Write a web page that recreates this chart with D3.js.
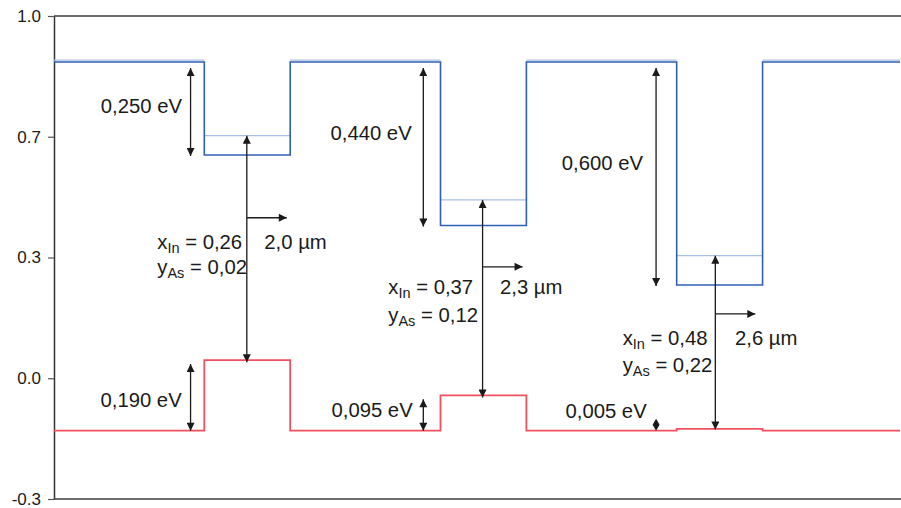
<!DOCTYPE html>
<html>
<head>
<meta charset="utf-8">
<script src="https://cdn.jsdelivr.net/npm/d3@7"></script>
<style>
  html, body { margin: 0; padding: 0; background: #fff; }
  svg { display: block; }
  text { font-family: "Liberation Sans", Arial, sans-serif; fill: #1a1a1a; }
</style>
</head>
<body>
<svg id="chart" width="901" height="508"></svg>
<script>
// ---------- data ----------
const xEdges = [0, 35, 55, 90, 110, 145, 165, 197];           // position (nm) of layer boundaries
const cbLevels = [0.876, 0.626, 0.876, 0.436, 0.876, 0.276, 0.876]; // conduction band per layer (eV)
const vbLevels = [-0.116, 0.074, -0.116, -0.021, -0.116, -0.111, -0.116]; // valence band per layer (eV)
const barrierLevel = 0.881;                                   // thin level line on barriers
const wellLevels = [0.678, 0.505, 0.355];                     // confined levels in the wells
const wellIndex = [1, 3, 5];
const yTickValues = [-0.3, 0.025, 0.35, 0.675, 1.0];
const yTickLabels = ["-0.3", "0.0", "0.3", "0.7", "1.0"];

const cbOffsetLabels = ["0,250 eV", "0,440 eV", "0,600 eV"];
const vbOffsetLabels = ["0,190 eV", "0,095 eV", "0,005 eV"];
const xInValues = ["0,26", "0,37", "0,48"];
const yAsValues = ["0,02", "0,12", "0,22"];
const wavelengths = ["2,0 µm", "2,3 µm", "2,6 µm"];
const transitionX = [44.9, 99.8, 154.0];     // position of transition arrows
const offsetArrowX = [31.8, 86.0, 140.2];    // position of band-offset arrows
const vbTops = [0.068, -0.027, -0.113];      // lower end of transition arrows

// ---------- layout ----------
const svg = d3.select("#chart");
const x = d3.scaleLinear().domain([0, 197]).range([54, 900]);
const y = d3.scaleLinear().domain([-0.3, 1.0]).range([499, 16]);

// markers
const defs = svg.append("defs");
defs.append("marker").attr("id", "ah")
  .attr("viewBox", "0 0 10 10").attr("refX", 10).attr("refY", 5)
  .attr("markerWidth", 9).attr("markerHeight", 8).attr("markerUnits", "userSpaceOnUse")
  .attr("orient", "auto-start-reverse")
  .append("path").attr("d", "M0,0 L10,5 L0,10 Z").attr("fill", "#1a1a1a");

// axes frame
svg.append("line").attr("x1", 54).attr("x2", 901).attr("y1", y(1.0)).attr("y2", y(1.0))
  .attr("stroke", "#3a3a3a").attr("stroke-width", 1.5);
svg.append("line").attr("x1", 54).attr("x2", 901).attr("y1", y(-0.3)).attr("y2", y(-0.3))
  .attr("stroke", "#6e6e6e").attr("stroke-width", 2);

const yAxis = d3.axisLeft(y).tickValues(yTickValues)
  .tickFormat((d, i) => yTickLabels[i]).tickSize(6).tickSizeOuter(0).tickPadding(7);
const gy = svg.append("g").attr("transform", "translate(54,0)").call(yAxis);
gy.select(".domain").attr("stroke", "#333").attr("stroke-width", 1.5);
gy.selectAll(".tick line").attr("stroke", "#555").attr("stroke-width", 1.2);
gy.selectAll(".tick text").attr("font-size", 17).attr("fill", "#222")
  .attr("font-family", "'Liberation Sans', Arial, sans-serif");

// step profiles
function stepPoints(levels) {
  const pts = [];
  levels.forEach((v, i) => { pts.push([xEdges[i], v]); pts.push([xEdges[i + 1], v]); });
  return pts;
}
const line = d3.line().x(d => x(d[0])).y(d => y(d[1]));

// thin level lines (light blue)
const thinSegs = [];
cbLevels.forEach((v, i) => {
  const wi = wellIndex.indexOf(i);
  thinSegs.push([[xEdges[i], wi < 0 ? barrierLevel : wellLevels[wi]], [xEdges[i + 1], wi < 0 ? barrierLevel : wellLevels[wi]]]);
});
svg.append("g").selectAll("path").data(thinSegs).join("path")
  .attr("d", line).attr("stroke", "#a9bfe6").attr("stroke-width", 1.2).attr("fill", "none");

svg.append("path").attr("d", line(stepPoints(cbLevels)))
  .attr("stroke", "#2f5fb5").attr("stroke-width", 1.6).attr("fill", "none");
svg.append("path").attr("d", line(stepPoints(vbLevels)))
  .attr("stroke", "#f0505c").attr("stroke-width", 1.8).attr("fill", "none");

// arrows
const ag = svg.append("g").attr("stroke", "#1a1a1a").attr("stroke-width", 1.3);
function arrow(x1, y1, x2, y2, both) {
  const l = ag.append("line").attr("x1", x1).attr("y1", y1).attr("x2", x2).attr("y2", y2)
    .attr("marker-end", "url(#ah)");
  if (both) l.attr("marker-start", "url(#ah)");
}
// conduction band offsets
wellIndex.forEach((wi, k) => {
  arrow(x(offsetArrowX[k]), y(cbLevels[0]) + 6, x(offsetArrowX[k]), y(cbLevels[wi]) + 1, true);
});
// valence band offsets
wellIndex.forEach((wi, k) => {
  const top = y(vbLevels[wi]) + 4, bot = y(vbLevels[0]);
  if (k === 2) {
    ag.append("path").attr("d", `M${x(offsetArrowX[k])},${bot - 12} l3.5,6 l-3.5,6 l-3.5,-6 Z`)
      .attr("fill", "#1a1a1a").attr("stroke", "none");
  } else {
    arrow(x(offsetArrowX[k]), top, x(offsetArrowX[k]), bot, true);
  }
});
// transition arrows
const horizY = [0.457, 0.325, 0.198];
wellIndex.forEach((wi, k) => {
  const tx = x(transitionX[k]);
  arrow(tx, y(vbTops[k]), tx, y(wellLevels[k]), true);
  arrow(tx, y(horizY[k]), tx + 40, y(horizY[k]), false);
});

// text labels
const tg = svg.append("g").attr("font-size", 20.3);
const cbLabelPos = [[182, 112.5], [411.7, 140], [643, 170]];
const vbLabelPos = [[181.7, 407], [412.7, 416.7], [646.7, 417.5]];
cbOffsetLabels.forEach((t, i) => tg.append("text").attr("x", cbLabelPos[i][0]).attr("y", cbLabelPos[i][1])
  .attr("text-anchor", "end").text(t));
vbOffsetLabels.forEach((t, i) => tg.append("text").attr("x", vbLabelPos[i][0]).attr("y", vbLabelPos[i][1])
  .attr("text-anchor", "end").text(t));

const compPos = [[157.3, 248.5, 274], [388.3, 294, 321.7], [622.7, 345, 371.7]];
const wlPos = [264.3, 500, 735];
xInValues.forEach((v, i) => {
  const t1 = tg.append("text").attr("x", compPos[i][0]).attr("y", compPos[i][1]);
  t1.append("tspan").text("x");
  t1.append("tspan").attr("font-size", 14.5).attr("dy", 4).text("In");
  t1.append("tspan").attr("dy", -4).text(" = " + v);
  const t2 = tg.append("text").attr("x", compPos[i][0]).attr("y", compPos[i][2]);
  t2.append("tspan").text("y");
  t2.append("tspan").attr("font-size", 14.5).attr("dy", 4).text("As");
  t2.append("tspan").attr("dy", -4).text(" = " + yAsValues[i]);
  tg.append("text").attr("x", wlPos[i]).attr("y", compPos[i][1]).text(wavelengths[i]);
});
</script>
</body>
</html>
